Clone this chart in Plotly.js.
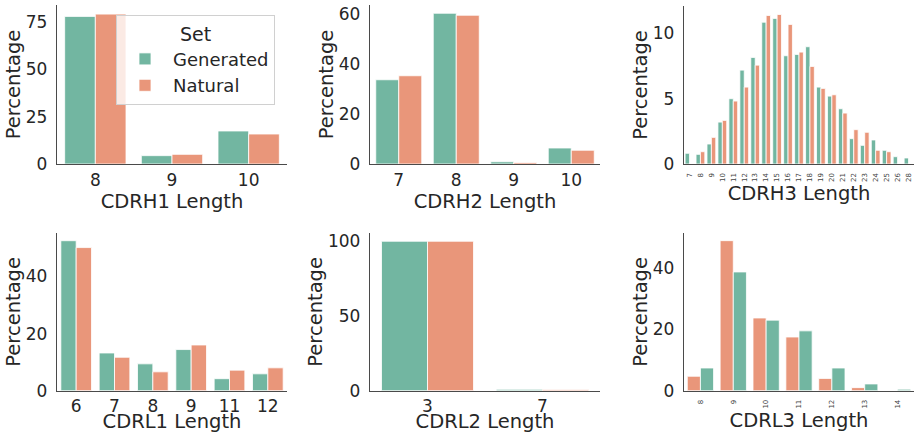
<!DOCTYPE html>
<html>
<head>
<meta charset="utf-8">
<script src="https://cdn.plot.ly/plotly-3.0.1.min.js"></script>
<style>html,body{margin:0;padding:0;background:#fff;}#chart{width:916px;height:433px;}</style>
</head>
<body>
<div id="chart"></div>
<script>
// ---- data ----
const seriesNames = ['Generated', 'Natural'];

const cdrh1Cats = ['8', '9', '10'];
const cdrh1Gen = [77.8, 4.4, 17.4];
const cdrh1Nat = [79.0, 5.1, 15.8];

const cdrh2Cats = ['7', '8', '9', '10'];
const cdrh2Gen = [33.7, 60.3, 0.9, 6.4];
const cdrh2Nat = [35.3, 59.5, 0.6, 5.5];

const cdrh3Cats = ['7','8','9','10','11','12','13','14','15','16','17','18','19','20','21','22','23','24','25','26','28'];
const cdrh3Gen = [0.82, 0.74, 1.53, 3.21, 5.0, 7.19, 8.16, 10.86, 11.15, 8.29, 8.39, 8.98, 5.89, 5.2, 4.23, 1.94, 1.43, 1.84, 1.05, 0.56, 0.46];
const cdrh3Nat = [0, 0.94, 2.04, 3.34, 4.82, 5.89, 7.57, 11.37, 11.45, 10.69, 8.57, 7.47, 5.79, 5.3, 3.9, 2.63, 2.43, 1.05, 0.94, 0, 0];

const cdrl1Cats = ['6', '7', '8', '9', '11', '12'];
const cdrl1Gen = [52.5, 13.2, 9.4, 14.4, 4.2, 5.9];
const cdrl1Nat = [50.1, 11.7, 6.6, 16.0, 7.2, 8.0];

const cdrl2Cats = ['3', '7'];
const cdrl2Gen = [99.6, 0.9];
const cdrl2Nat = [99.6, 0.8];

const cdrl3Cats = ['8', '9', '10', '11', '12', '13', '14'];
const cdrl3Nat = [4.7, 48.9, 23.7, 17.5, 4.0, 1.0, 0];
const cdrl3Gen = [7.4, 38.7, 23.0, 19.5, 7.4, 2.2, 0.5];

const yTicks1 = [0, 25, 50, 75];
const yTicks2 = [0, 20, 40, 60];
const yTicks3 = [0, 5, 10];
const yTicks4 = [0, 20, 40];
const yTicks5 = [0, 50, 100];
const yTicks6 = [0, 20, 40];

// ---- styling ----
const GREEN = '#72b6a1';
const ORANGE = '#e9967a';
const TXT = '#262626';
const FONT = 'DejaVu Sans, sans-serif';
const W = 916, H = 433;

function bar(name, cats, vals, color, xa, ya, showlegend) {
  return {
    type: 'bar', name: name, x: cats, y: vals,
    xaxis: xa, yaxis: ya, legendgroup: name, showlegend: showlegend,
    marker: {color: color, line: {color: '#ffffff', width: 0.8}},
    hoverinfo: 'x+y+name'
  };
}

const traces = [
  bar(seriesNames[0], cdrh1Cats, cdrh1Gen, GREEN, 'x', 'y', true),
  bar(seriesNames[1], cdrh1Cats, cdrh1Nat, ORANGE, 'x', 'y', true),
  bar(seriesNames[0], cdrh2Cats, cdrh2Gen, GREEN, 'x2', 'y2', false),
  bar(seriesNames[1], cdrh2Cats, cdrh2Nat, ORANGE, 'x2', 'y2', false),
  bar(seriesNames[0], cdrh3Cats, cdrh3Gen, GREEN, 'x3', 'y3', false),
  bar(seriesNames[1], cdrh3Cats, cdrh3Nat, ORANGE, 'x3', 'y3', false),
  bar(seriesNames[0], cdrl1Cats, cdrl1Gen, GREEN, 'x4', 'y4', false),
  bar(seriesNames[1], cdrl1Cats, cdrl1Nat, ORANGE, 'x4', 'y4', false),
  bar(seriesNames[0], cdrl2Cats, cdrl2Gen, GREEN, 'x5', 'y5', false),
  bar(seriesNames[1], cdrl2Cats, cdrl2Nat, ORANGE, 'x5', 'y5', false),
  bar(seriesNames[1], cdrl3Cats, cdrl3Nat, ORANGE, 'x6', 'y6', false),
  bar(seriesNames[0], cdrl3Cats, cdrl3Gen, GREEN, 'x6', 'y6', false)
];

function xd(a, b) { return [a / W, b / W]; }
function yd(top, bottom) { return [1 - bottom / H, 1 - top / H]; }

function xAxis(dom, anchor, title, small, n, standoff) {
  return {
    domain: dom, anchor: anchor, type: 'category',
    range: [-0.5, n - 0.5],
    showline: true, linecolor: '#4a4a4a', linewidth: 1.2, mirror: false,
    showgrid: false, zeroline: false,
    ticks: small ? 'outside' : '', ticklen: small ? 5 : 0, tickcolor: 'rgba(0,0,0,0)',
    tickangle: small ? -90 : 0,
    tickfont: {family: FONT, size: small ? 7 : 17, color: small ? '#444' : TXT},
    title: {text: title, font: {family: FONT, size: 19.5, color: TXT}, standoff: standoff},
    automargin: false, fixedrange: true
  };
}
function yAxis(dom, anchor, range, ticks) {
  return {
    domain: dom, anchor: anchor, range: range,
    tickmode: 'array', tickvals: ticks, ticktext: ticks.map(String),
    showline: true, linecolor: '#4a4a4a', linewidth: 1.2, mirror: false,
    showgrid: false, zeroline: false,
    ticks: 'outside', ticklen: 5, tickcolor: 'rgba(0,0,0,0)',
    tickfont: {family: FONT, size: 17, color: TXT},
    title: {text: 'Percentage', font: {family: FONT, size: 19.5, color: TXT}, standoff: 0},
    automargin: false, fixedrange: true
  };
}

const rowTop = yd(5, 164), rowBot = yd(233, 390.7);
const layout = {
  width: W, height: H,
  margin: {l: 0, r: 0, t: 0, b: 0},
  paper_bgcolor: '#ffffff', plot_bgcolor: 'rgba(0,0,0,0)',
  font: {family: FONT, color: TXT},
  barmode: 'group', bargap: 0.2, bargroupgap: 0,
  showlegend: true,
  legend: {
    x: 116 / W, y: 1 - 15 / H, xanchor: 'left', yanchor: 'top',
    bgcolor: 'rgba(255,255,255,0.8)', bordercolor: '#d0d0d0', borderwidth: 1,
    font: {family: FONT, size: 18, color: TXT},
    title: {text: 'Set', side: 'top center', font: {family: FONT, size: 19, color: TXT}},
    itemwidth: 46, tracegroupgap: 0
  },
  xaxis:  xAxis(xd(57, 287), 'y', 'CDRH1 Length', false, cdrh1Cats.length, 4),
  yaxis:  yAxis(rowTop, 'x', [0, 83.8], yTicks1),
  xaxis2: xAxis(xd(370, 600), 'y2', 'CDRH2 Length', false, cdrh2Cats.length, 4),
  yaxis2: yAxis(rowTop, 'x2', [0, 63.6], yTicks2),
  xaxis3: xAxis(xd(684, 914), 'y3', 'CDRH3 Length', true, cdrh3Cats.length, 0),
  yaxis3: yAxis(yd(6, 164), 'x3', [0, 12.1], yTicks3),
  xaxis4: xAxis(xd(57, 287), 'y4', 'CDRL1 Length', false, cdrl1Cats.length, 14),
  yaxis4: yAxis(rowBot, 'x4', [0, 55.2], yTicks4),
  xaxis5: xAxis(xd(370, 600), 'y5', 'CDRL2 Length', false, cdrl2Cats.length, 14),
  yaxis5: yAxis(rowBot, 'x5', [0, 105.1], yTicks5),
  xaxis6: xAxis(xd(684, 914), 'y6', 'CDRL3 Length', true, cdrl3Cats.length, 0),
  yaxis6: yAxis(rowBot, 'x6', [0, 51.4], yTicks6)
};

Plotly.newPlot('chart', traces, layout, {displayModeBar: false, staticPlot: true});
</script>
</body>
</html>
